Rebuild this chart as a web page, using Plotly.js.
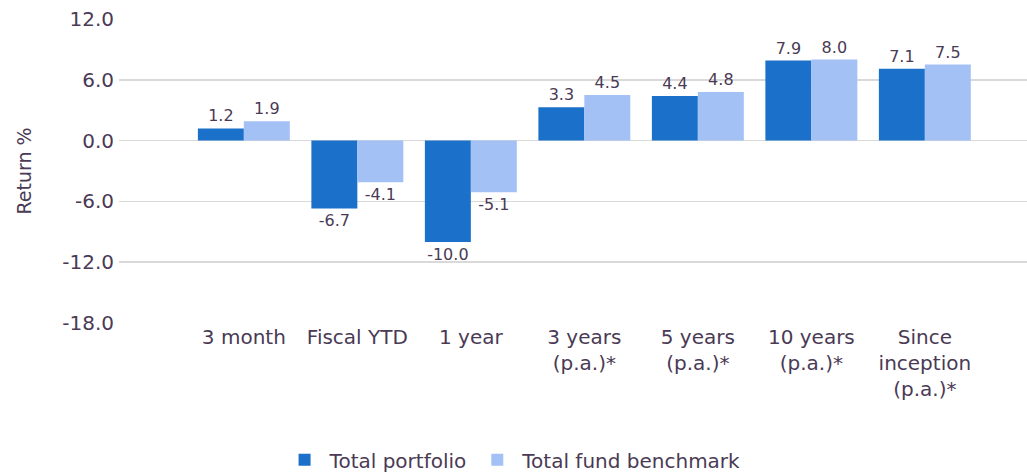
<!DOCTYPE html>
<html><head><meta charset="utf-8">
<script src="https://cdn.plot.ly/plotly-3.0.1.min.js"></script>
<style>html,body{margin:0;padding:0;background:#fff}#chart{width:1027px;height:473px}</style>
</head><body><div id="chart"></div>
<script>
const categories = ["3 month","Fiscal YTD","1 year","3 years<br>(p.a.)*","5 years<br>(p.a.)*","10 years<br>(p.a.)*","Since<br>inception<br>(p.a.)*"];
const portfolio = [1.2, -6.7, -10.0, 3.3, 4.4, 7.9, 7.1];
const benchmark = [1.9, -4.1, -5.1, 4.5, 4.8, 8.0, 7.5];
const seriesNames = ["Total portfolio", "Total fund benchmark"];
const yTicks = [-18, -12, -6, 0, 6, 12];

const txtColor = "#4a3a55";
const fam = "DejaVu Sans, sans-serif";
const idx = categories.map((c, i) => i);

const mk = (name, vals, color) => ({
  type: "bar", name: name, x: idx, y: vals,
  marker: {color: color},
  text: vals.map(v => v.toFixed(1)), textposition: "outside", constraintext: "none",
  textfont: {family: fam, size: 16, color: txtColor},
  cliponaxis: false, hoverinfo: "skip"
});

const data = [mk(seriesNames[0], portfolio, "#1b71c9"), mk(seriesNames[1], benchmark, "#a4c1f6")];

const layout = {
  width: 1027, height: 473,
  margin: {l: 119, r: 0, t: 19, b: 150, autoexpand: false},
  paper_bgcolor: "#fff", plot_bgcolor: "#fff",
  font: {family: fam, size: 18, color: txtColor},
  barmode: "group", bargap: 0.19, bargroupgap: 0,
  showlegend: true,
  legend: {orientation: "h", x: 0.434, xanchor: "center", y: -0.45, yanchor: "middle",
           font: {family: fam, size: 20, color: txtColor}, traceorder: "normal", itemwidth: 40},
  xaxis: {range: [-1.1, 6.9], tickmode: "array", tickvals: idx, ticktext: categories, tickangle: 0,
          automargin: false, showgrid: false, zeroline: false, showline: false, ticks: "",
          tickfont: {family: fam, size: 20, color: txtColor}},
  yaxis: {range: [-18, 12], tickmode: "array", tickvals: yTicks, ticktext: yTicks.map(v => v.toFixed(1)),
          automargin: false, showgrid: true, gridcolor: "#d9d9d9", gridwidth: 1.5,
          zeroline: true, zerolinecolor: "#d9d9d9", zerolinewidth: 1.5, showline: false,
          ticks: "", ticklabelstandoff: 4,
          tickfont: {family: fam, size: 20, color: txtColor},
          title: {text: "Return %", font: {family: fam, size: 19, color: txtColor}, standoff: 25}}
};

Plotly.newPlot("chart", data, layout, {staticPlot: true});
</script></body></html>
